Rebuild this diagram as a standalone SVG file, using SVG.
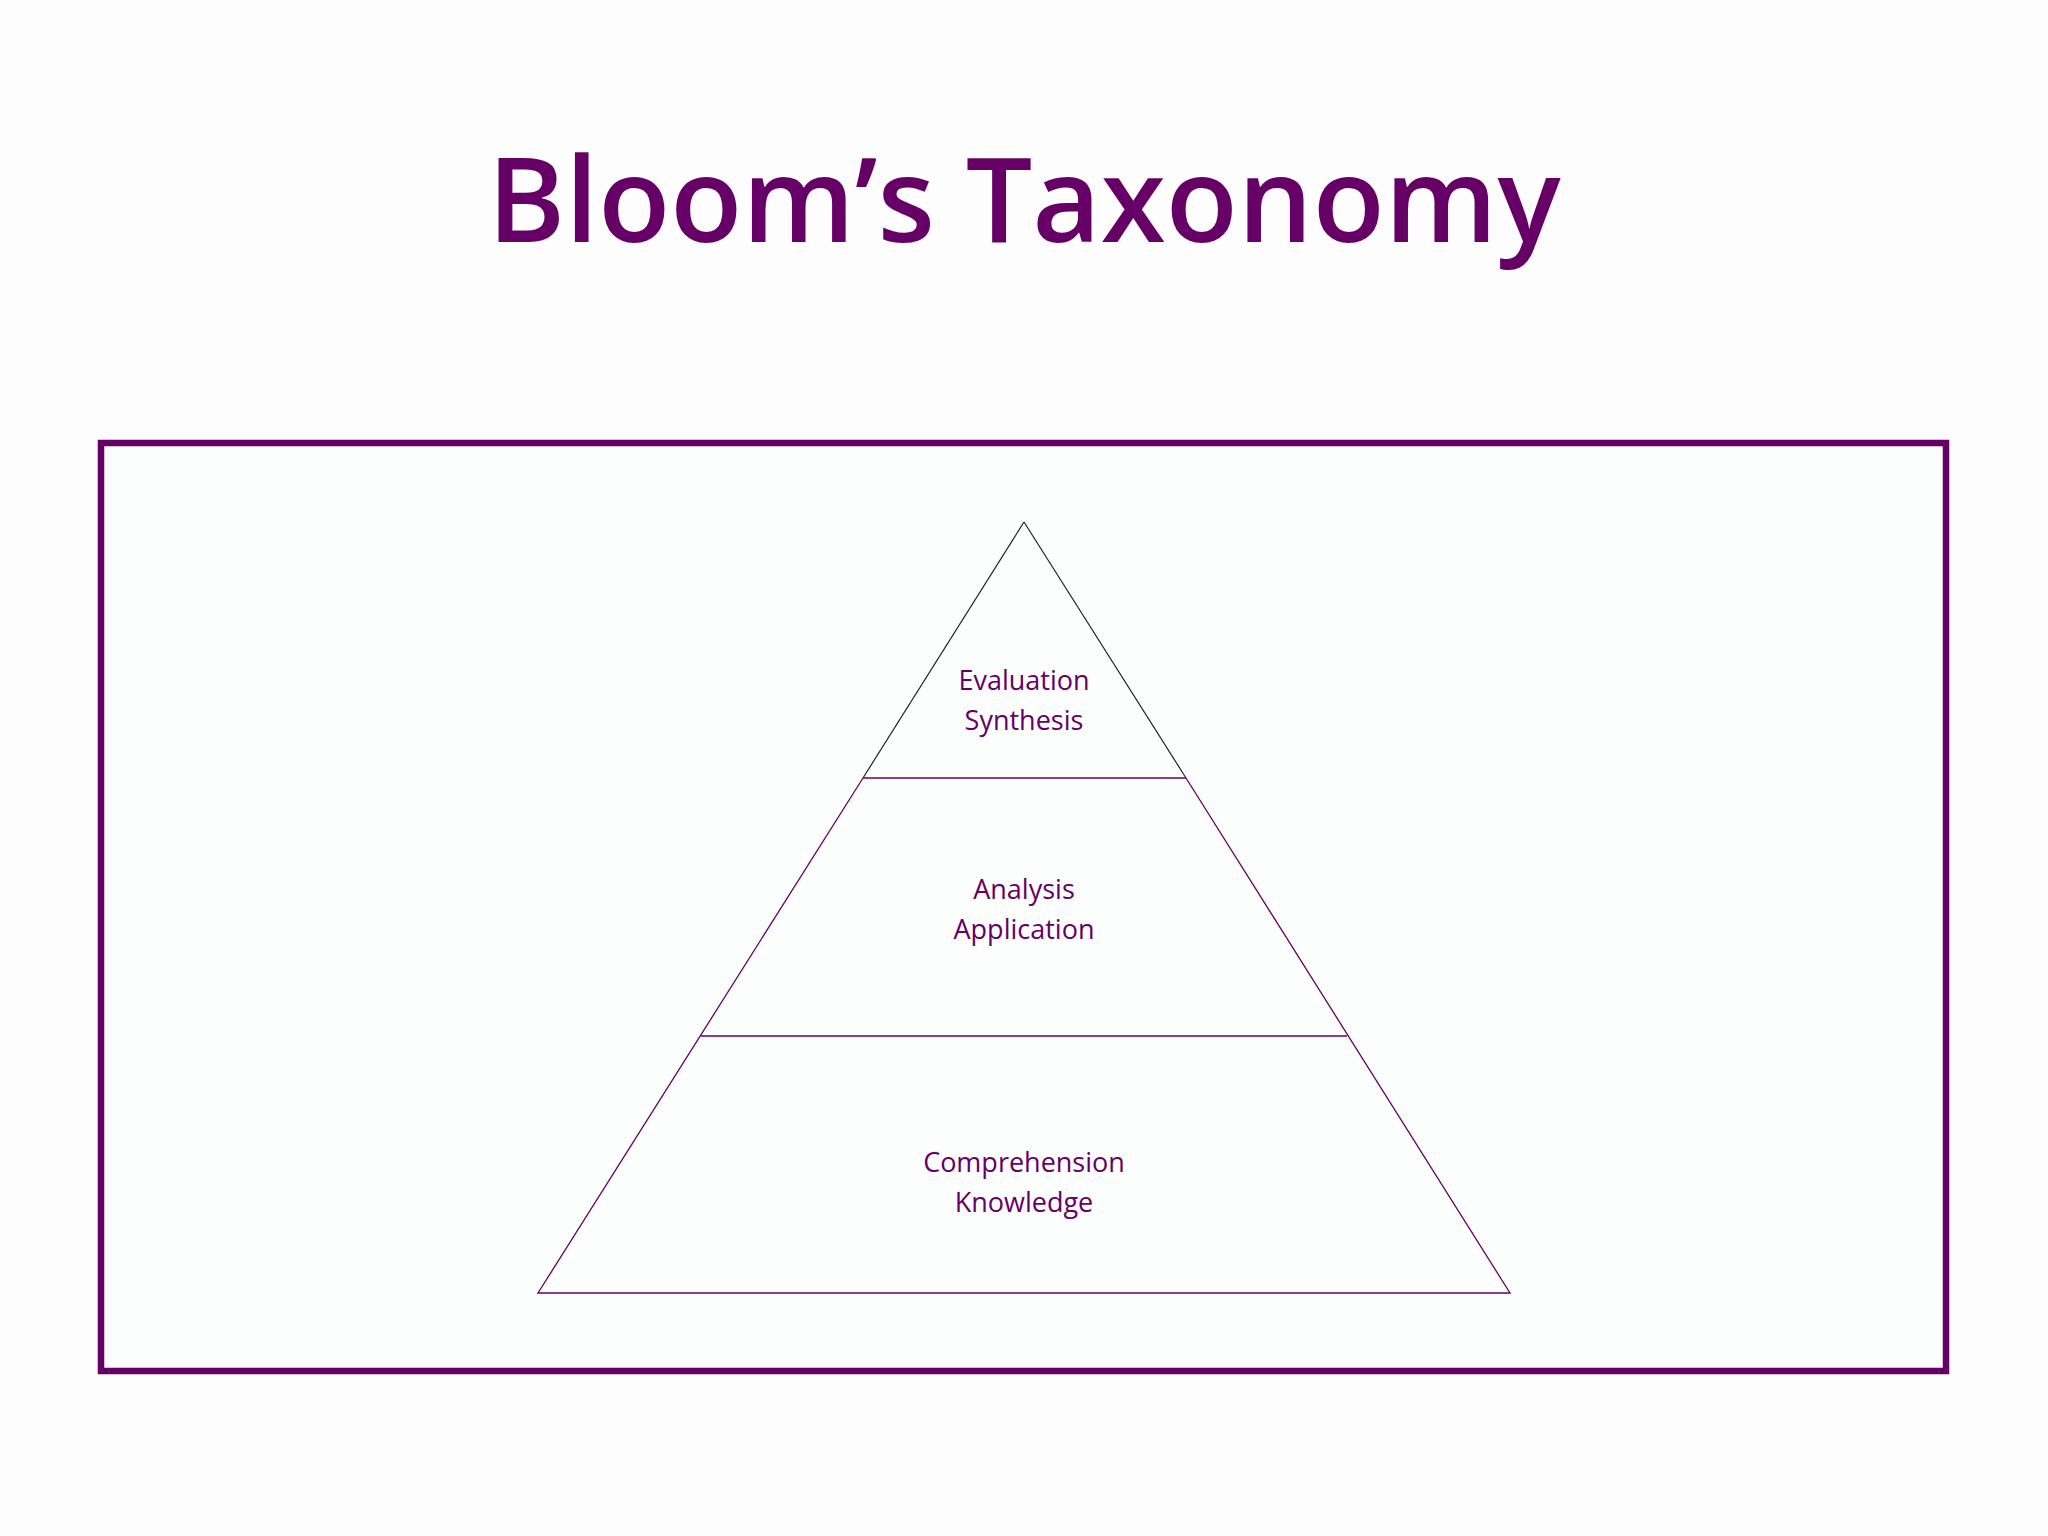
<svg xmlns="http://www.w3.org/2000/svg" width="2048" height="1536" viewBox="0 0 2048 1536">
<style>
.t{font-family:"Comic Sans MS","Open Sans","DejaVu Sans",sans-serif;fill:#660066;text-anchor:middle}
.l{font-size:27px}
.e{stroke:#660066;stroke-width:1.3;fill:none}
</style>
<rect width="2048" height="1536" fill="#fdfdfd"/>
<text class="t" x="1024" y="242" font-size="118" font-weight="600">Bloom’s Taxonomy</text>
<rect x="101" y="443" width="1845" height="928" fill="#fcfdfd" stroke="#660066" stroke-width="6.5"/>
<g id="pyramid">
<path d="M1024 522 L863 778" stroke="#222" stroke-width="1.2" fill="none"/>
<path d="M1024 522 L1186 778" stroke="#222" stroke-width="1.2" fill="none"/>
<path class="e" d="M863 778 L538 1293 L1510 1293 L1186 778"/>
</g>
<g id="connectors">
<line class="e" x1="863" y1="778" x2="1186" y2="778"/>
<line class="e" x1="701" y1="1036" x2="1347" y2="1036"/>
</g>
<g id="top"><text class="t l" x="1024" y="690">Evaluation</text><text class="t l" x="1024" y="730">Synthesis</text></g>
<g id="middle"><text class="t l" x="1024" y="899">Analysis</text><text class="t l" x="1024" y="939">Application</text></g>
<g id="bottom"><text class="t l" x="1024" y="1172">Comprehension</text><text class="t l" x="1024" y="1212">Knowledge</text></g>
</svg>
